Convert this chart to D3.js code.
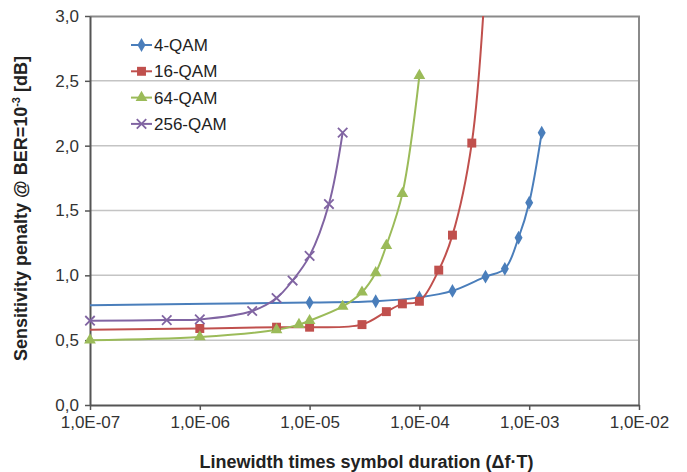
<!DOCTYPE html>
<html>
<head>
<meta charset="utf-8">
<script src="https://cdn.jsdelivr.net/npm/d3@7"></script>
<style>
	body { margin: 0; background: #fff; }
	svg { display: block; font-family: 'Liberation Sans', Arial, sans-serif; }
</style>
</head>
<body>
<div class="chart"></div>
<script>
// sensitivity penalty vs linewidth - symbol duration product
const qam4x = [1e-7, 1e-5, 4e-5, 1e-4, 2e-4, 4e-4, 6e-4, 8e-4, 1e-3, 1.3e-3]
const qam4y = [0.77, 0.79, 0.80, 0.83, 0.88, 0.99, 1.05, 1.29, 1.56, 2.10]

const qam16x = [1e-7, 1e-6, 5e-6, 1e-5, 3e-5, 5e-5, 7e-5, 1e-4, 1.5e-4, 2e-4, 3e-4, 4e-4]
const qam16y = [0.58, 0.59, 0.60, 0.60, 0.62, 0.72, 0.78, 0.80, 1.04, 1.31, 2.02, 3.3]

const qam64x = [1e-7, 1e-6, 5e-6, 8e-6, 1e-5, 2e-5, 3e-5, 4e-5, 5e-5, 7e-5, 1e-4]
const qam64y = [0.50, 0.525, 0.58, 0.62, 0.65, 0.76, 0.87, 1.02, 1.23, 1.63, 2.54]

const qam256x = [1e-7, 5e-7, 1e-6, 3e-6, 5e-6, 7e-6, 1e-5, 1.5e-5, 2e-5]
const qam256y = [0.65, 0.655, 0.66, 0.725, 0.825, 0.96, 1.15, 1.55, 2.10]

const seriesNames = ['4-QAM', '16-QAM', '64-QAM', '256-QAM']
const xTicks = [1e-7, 1e-6, 1e-5, 1e-4, 1e-3, 1e-2]
const yTicks = [0, 0.5, 1, 1.5, 2, 2.5, 3]

const series = [
	{name: seriesNames[0], xs: qam4x, ys: qam4y, color: '#4a7ebb', symbol: d3.symbolDiamond, size: 55, firstMarker: false},
	{name: seriesNames[1], xs: qam16x, ys: qam16y, color: '#c0504d', symbol: d3.symbolSquare, size: 80, firstMarker: false},
	{name: seriesNames[2], xs: qam64x, ys: qam64y, color: '#9bbb59', symbol: d3.symbolTriangle, size: 60, firstMarker: true},
	{name: seriesNames[3], xs: qam256x, ys: qam256y, color: '#8064a2', symbol: d3.symbolTimes, size: 60, firstMarker: true}
]

const FONT = "'Liberation Sans Narrow', 'Arial Narrow', 'Liberation Sans', Arial, sans-serif"

const margin = ({top: 16, right: 48, bottom: 67, left: 90})
const W = 687, H = 472
const width = W - margin.left - margin.right
const height = H - margin.top - margin.bottom

const svg = d3.select('.chart')
	.append('svg')
	.attr('width', W)
	.attr('height', H)
	.style('font-family', FONT)

const g = svg.append('g')
	.attr('transform', 'translate(' + margin.left + ',' + margin.top + ')')

const xScale = d3.scaleLog()
	.domain([1e-7, 1e-2])
	.range([0, width])

const yScale = d3.scaleLinear()
	.domain([0, 3])
	.range([height, 0])

// gridlines
g.append('g').selectAll('line')
	.data(yTicks.filter(d => d > 0 && d < 3))
	.enter()
	.append('line')
	.attr('x1', 0)
	.attr('x2', width)
	.attr('y1', d => yScale(d))
	.attr('y2', d => yScale(d))
	.attr('stroke', '#c4c4c4')
	.attr('stroke-width', 1.5)

// plot border top & right
g.append('path')
	.attr('d', `M0,0.5H${width}V${height}`)
	.attr('fill', 'none')
	.attr('stroke', '#8a8a8a')
	.attr('stroke-width', 2)

const fmtX = d => '1,0E-' + String(-Math.round(Math.log10(d))).padStart(2, '0')
const fmtY = d => d3.format('.1f')(d).replace('.', ',')

const xAxis = d3.axisBottom(xScale)
	.tickValues(xTicks)
	.tickFormat(fmtX)
	.tickSize(5)
	.tickSizeOuter(0)

const yAxis = d3.axisLeft(yScale)
	.tickValues(yTicks)
	.tickFormat(fmtY)
	.tickSize(5)
	.tickSizeOuter(0)

const xg = g.append('g')
	.attr('transform', `translate(0, ${height})`)
	.call(xAxis)
const yg = g.append('g').call(yAxis)

for (const ax of [xg, yg]) {
	ax.select('.domain').attr('stroke', '#555').attr('stroke-width', 2)
	ax.selectAll('.tick line').attr('stroke', '#555').attr('stroke-width', 1.5)
	ax.selectAll('.tick text')
		.attr('fill', '#333')
		.attr('font-size', '17px')
		.attr('font-family', FONT)
}
xg.selectAll('.tick text').attr('dy', '1.0em').attr('y', 6)
yg.selectAll('.tick text').attr('x', -11)

// clip
svg.append('defs').append('clipPath')
	.attr('id', 'clip')
	.append('rect')
	.attr('x', 0)
	.attr('y', 0)
	.attr('width', width)
	.attr('height', height)

const line = d3.line()
	.x(d => xScale(d[0]))
	.y(d => yScale(d[1]))
	.curve(d3.curveCatmullRom.alpha(0.5))

const plot = g.append('g').attr('clip-path', 'url(#clip)')

series.forEach(s => {
	const pts = s.xs.map((x, i) => [x, s.ys[i]])
	plot.append('path')
		.datum(pts)
		.attr('d', line)
		.attr('fill', 'none')
		.attr('stroke', s.color)
		.attr('stroke-width', 2)
})

series.forEach(s => {
	const pts = s.xs.map((x, i) => [x, s.ys[i]])
		.filter((d, i) => (i > 0 || s.firstMarker) && d[1] <= 3)
	g.append('g').selectAll('path')
		.data(pts)
		.enter()
		.append('path')
		.attr('transform', d => `translate(${xScale(d[0])},${yScale(d[1])})`)
		.attr('d', d3.symbol().type(s.symbol).size(s.size))
		.attr('fill', s.color)
		.attr('stroke', s.color)
		.attr('stroke-width', s.symbol === d3.symbolTimes ? 1.8 : 0)
})

// legend
const legend = svg.append('g')
	.attr('transform', 'translate(131, 45)')

const items = legend.selectAll('g')
	.data(series)
	.enter()
	.append('g')
	.attr('transform', (d, i) => `translate(0, ${i * 26.3})`)

items.append('line')
	.attr('x1', 0)
	.attr('x2', 21)
	.attr('stroke', d => d.color)
	.attr('stroke-width', 2)

items.append('path')
	.attr('transform', 'translate(10.5, 0)')
	.attr('d', d => d3.symbol().type(d.symbol).size(d.size)())
	.attr('fill', d => d.color)
	.attr('stroke', d => d.color)
	.attr('stroke-width', d => d.symbol === d3.symbolTimes ? 1.8 : 0)

items.append('text')
	.attr('x', 23)
	.attr('y', 6)
	.attr('font-size', '17px')
	.attr('fill', '#222')
	.text(d => d.name)

// y-axis label
const ylab = svg.append('text')
	.attr('transform', `translate(27, ${margin.top + height / 2 - 2}) rotate(-90)`)
	.attr('text-anchor', 'middle')
	.attr('font-size', '18px')
	.attr('font-weight', 'bold')
	.attr('fill', '#222')
ylab.append('tspan').text('Sensitivity penalty @ BER=10')
ylab.append('tspan').attr('font-size', '11px').attr('dy', '-7').text('-3')
ylab.append('tspan').attr('dy', '7').text(' [dB]')

// x-axis label
svg.append('text')
	.attr('x', margin.left + width / 2 + 2)
	.attr('y', 468)
	.attr('text-anchor', 'middle')
	.attr('font-size', '18px')
	.attr('font-weight', 'bold')
	.attr('fill', '#222')
	.text('Linewidth times symbol duration (\u0394f\u00b7T)')
</script>
</body>
</html>
